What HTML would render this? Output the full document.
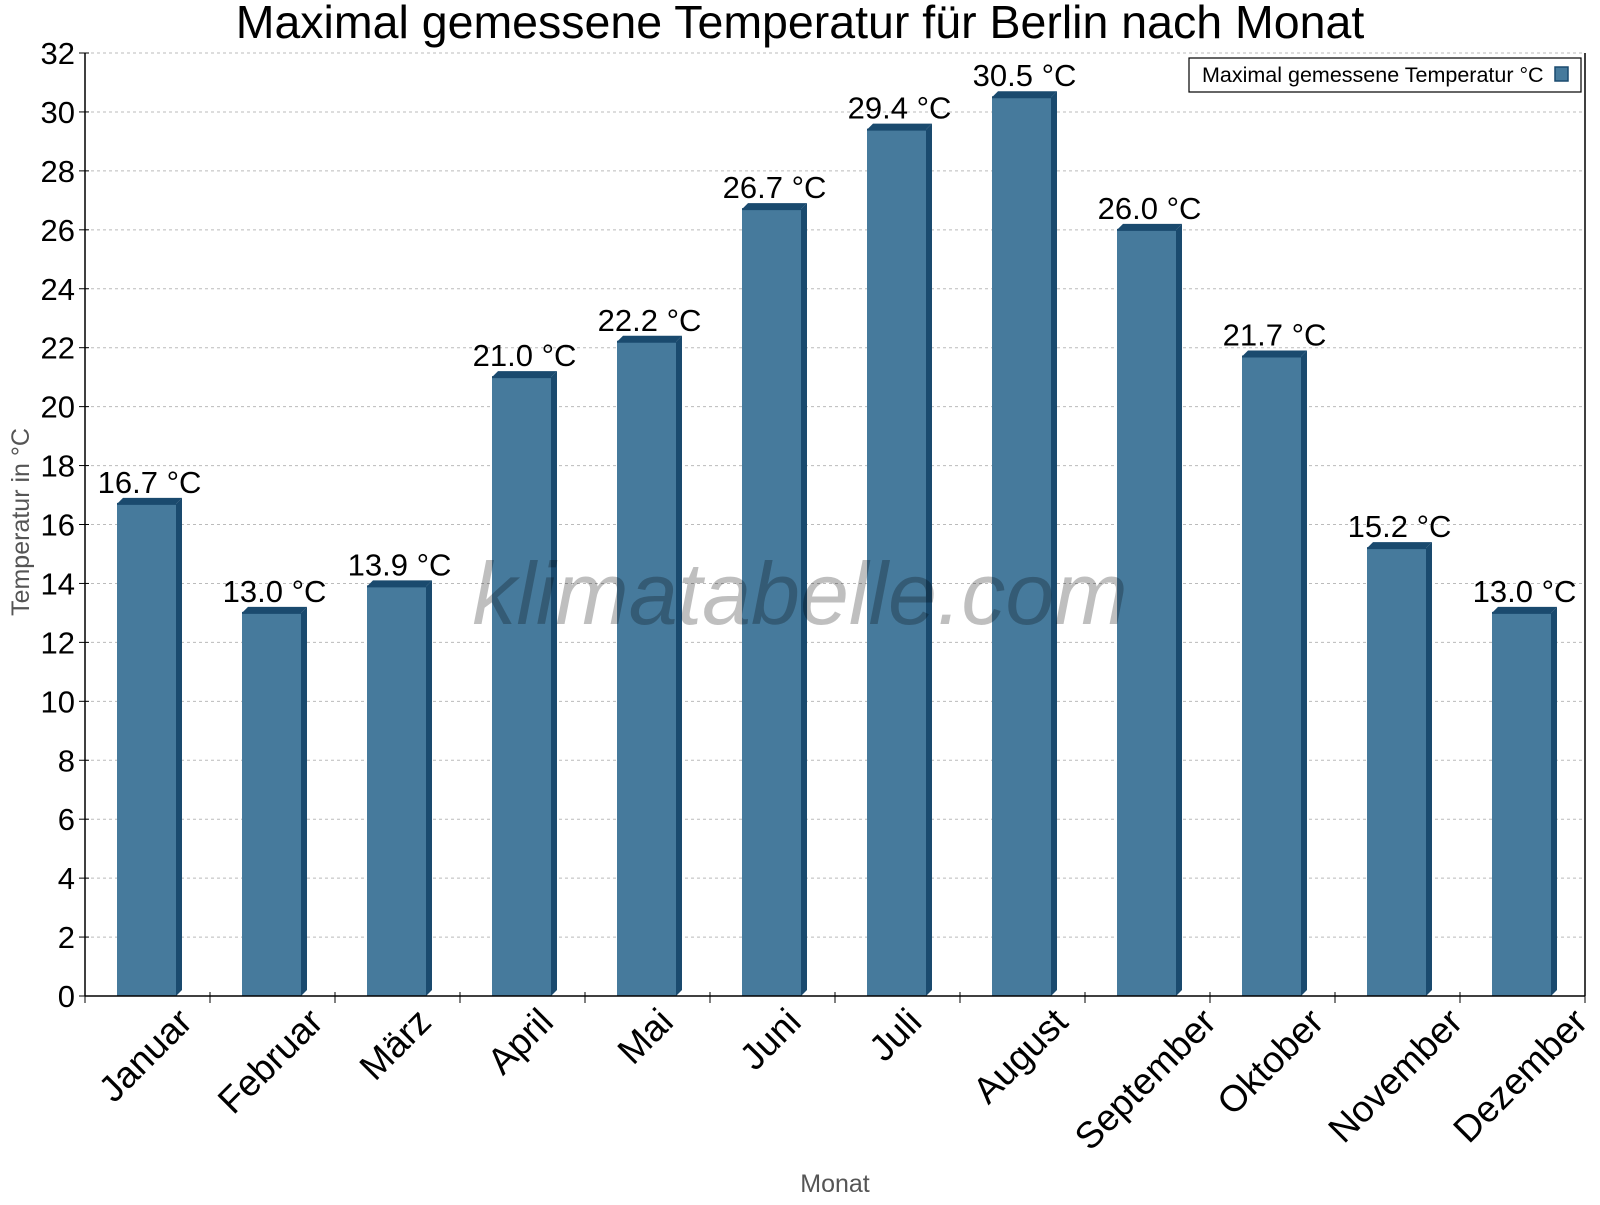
<!DOCTYPE html>
<html><head><meta charset="utf-8"><style>
body{margin:0;background:#fff}
text{font-family:"Liberation Sans",sans-serif}
</style></head><body>
<svg id="chart" width="1600" height="1200" xmlns="http://www.w3.org/2000/svg">
<text x="800" y="38" font-size="46.5" text-anchor="middle">Maximal gemessene Temperatur für Berlin nach Monat</text>
<g id="grid"></g>
<g id="bars"></g>
<text x="800" y="624" font-size="88" font-style="italic" fill="#000" fill-opacity="0.25" text-anchor="middle">klimatabelle.com</text>
<g id="axes"></g>
<text transform="translate(29,522) rotate(-90)" font-size="25" fill="#555" text-anchor="middle">Temperatur in °C</text>
<text x="835" y="1192" font-size="25" fill="#555" text-anchor="middle">Monat</text>
<g>
<rect x="1189" y="58" width="392" height="34" fill="#fff" stroke="#000" stroke-width="1.2"/>
<text x="1202" y="82" font-size="21.5">Maximal gemessene Temperatur °C</text>
<rect x="1555" y="67" width="13" height="14" fill="#467a9c" stroke="#1a4a6e" stroke-width="1.5"/>
</g>
</svg>
<script>
const categories=["Januar","Februar","März","April","Mai","Juni","Juli","August","September","Oktober","November","Dezember"];
const values=[16.7,13.0,13.9,21.0,22.2,26.7,29.4,30.5,26.0,21.7,15.2,13.0];
const yTicks=[0,2,4,6,8,10,12,14,16,18,20,22,24,26,28,30,32];
const NS="http://www.w3.org/2000/svg";
const L=85,R=1585,T=53,B=996,YMAX=32;
const y=v=>B-(v/YMAX)*(B-T);
const cw=(R-L)/categories.length;
const x=i=>L+i*cw;
function mk(tag,attrs,parent){const e=document.createElementNS(NS,tag);for(const k in attrs)e.setAttribute(k,attrs[k]);parent.appendChild(e);return e;}
const grid=document.getElementById('grid'),axes=document.getElementById('axes'),bars=document.getElementById('bars');
yTicks.forEach(t=>{
  if(t>0){const g=mk('line',{x1:L,x2:R,y1:y(t),y2:y(t),stroke:'#bbb','stroke-dasharray':'3,3'},grid);
  
  }
  mk('line',{x1:L-6,x2:L+4,y1:y(t),y2:y(t),stroke:'#000'},axes);
  const lb=mk('text',{x:L-10,y:y(t)+11,'font-size':31,'text-anchor':'end'},axes);lb.textContent=t;
  
  
});
mk('line',{x1:L,x2:L,y1:T,y2:B,stroke:'#000','stroke-width':1.5},axes);
mk('line',{x1:R,x2:R,y1:T,y2:B,stroke:'#000','stroke-width':1.5},axes);
mk('line',{x1:L,x2:R,y1:B,y2:B,stroke:'#000','stroke-width':1.5},axes);
for(let i=0;i<=categories.length;i++){mk('line',{x1:x(i),x2:x(i),y1:B-4,y2:B+7,stroke:'#000'},axes);}
const w=59,d=6,off=32,FS=37,ASC=27;
values.forEach((v,i)=>{
  const bx=x(i)+off,by=y(v);
  const g=mk('g',{},bars);
  
  
  mk('rect',{x:bx,y:by,width:w,height:B-by,fill:'#467a9c'},g);
  mk('polygon',{points:`${bx+w},${by} ${bx+w+d},${by-d} ${bx+w+d},${B-d} ${bx+w},${B}`,fill:'#1a4a6e'},g);
  mk('polygon',{points:`${bx},${by} ${bx+d},${by-d} ${bx+w+d},${by-d} ${bx+w},${by}`,fill:'#1a4a6e'},g);
  mk('line',{x1:bx,x2:bx+w,y1:by,y2:by,stroke:'#1a4a6e','stroke-width':2},g);
  const t=mk('text',{x:bx+w/2+3,y:by-11,'font-size':31,'text-anchor':'middle'},bars);
  t.textContent=v.toFixed(1)+' °C';
  
  
  const c=x(i)+cw/2;
  const xl=mk('text',{'font-size':FS,'text-anchor':'end'},axes);
  xl.textContent=categories[i];
  
  
  const len=xl.getComputedTextLength();
  const ex=c+0.354*(len+ASC)-3, ey=1005+0.707*ASC;
  xl.setAttribute('transform',`translate(${ex},${ey}) rotate(-45)`);
});
</script>
</body></html>
